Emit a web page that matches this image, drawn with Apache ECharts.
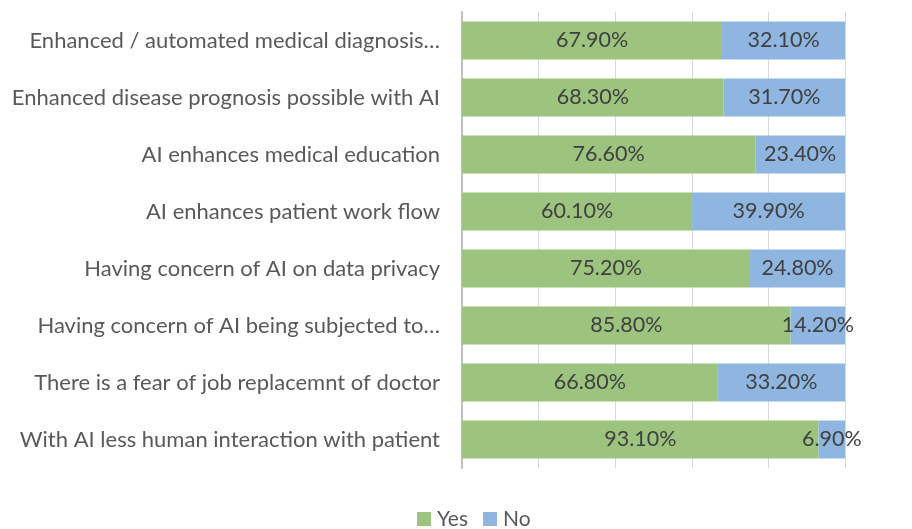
<!DOCTYPE html>
<html>
<head>
<meta charset="utf-8">
<title>AI survey</title>
<script src="https://cdn.jsdelivr.net/npm/echarts@6/dist/echarts.min.js"></script>
<style>
  * { margin: 0; padding: 0; }
  body { background: #ffffff; }
  #chart { width: 912px; height: 529px; }
</style>
</head>
<body>
<div id="chart"></div>
<script>
// categories listed bottom to top (category axis starts at the bottom)
var categories = [
  'With AI less human interaction with patient',
  'There is a fear of job replacemnt of doctor',
  'Having concern of AI being subjected to\u2026',
  'Having concern of AI on data privacy',
  'AI enhances patient work flow',
  'AI enhances medical education',
  'Enhanced disease prognosis possible with AI',
  'Enhanced / automated medical diagnosis\u2026'
];
var yesValues = [93.1, 66.8, 85.8, 75.2, 60.1, 76.6, 68.3, 67.9];
var noValues = [6.9, 33.2, 14.2, 24.8, 39.9, 23.4, 31.7, 32.1];

var font = 'Lato';
var labelColor = '#404040';
var catColor = '#595959';

function pctLabel(p) { return p.value.toFixed(2) + '%'; }

var chart = echarts.init(document.getElementById('chart'));
chart.setOption({
  animation: false,
  textStyle: { fontFamily: font },
  grid: { left: 462, right: 67, top: 12, bottom: 61 },
  legend: {
    data: ['Yes', 'No'],
    top: 507,
    left: 417,
    padding: 0,
    itemWidth: 14,
    itemHeight: 14,
    itemGap: 15,
    icon: 'rect',
    textStyle: { fontSize: 21, lineHeight: 24, color: catColor, fontFamily: font, padding: [0, 0, 0, 1] }
  },
  xAxis: {
    type: 'value',
    min: 0,
    max: 100,
    interval: 20,
    axisLabel: { show: false },
    axisLine: { show: false },
    axisTick: { show: false },
    splitLine: { lineStyle: { color: '#d9d9d9', width: 1 } }
  },
  yAxis: {
    type: 'category',
    data: categories,
    axisLine: { lineStyle: { color: '#bfbfbf', width: 2 } },
    axisTick: { show: false },
    axisLabel: { fontSize: 22, color: catColor, margin: 22, fontFamily: font }
  },
  series: [
    {
      name: 'Yes',
      type: 'bar',
      stack: 'total',
      barWidth: 38,
      data: yesValues,
      itemStyle: { color: '#9cc47f' },
      label: { show: true, position: 'inside', formatter: pctLabel, fontSize: 21.5, color: labelColor, fontFamily: font }
    },
    {
      name: 'No',
      type: 'bar',
      stack: 'total',
      barWidth: 38,
      data: noValues,
      itemStyle: { color: '#8fb6e0' },
      label: { show: true, position: 'inside', formatter: pctLabel, fontSize: 21.5, color: labelColor, fontFamily: font }
    }
  ]
});
</script>
</body>
</html>
